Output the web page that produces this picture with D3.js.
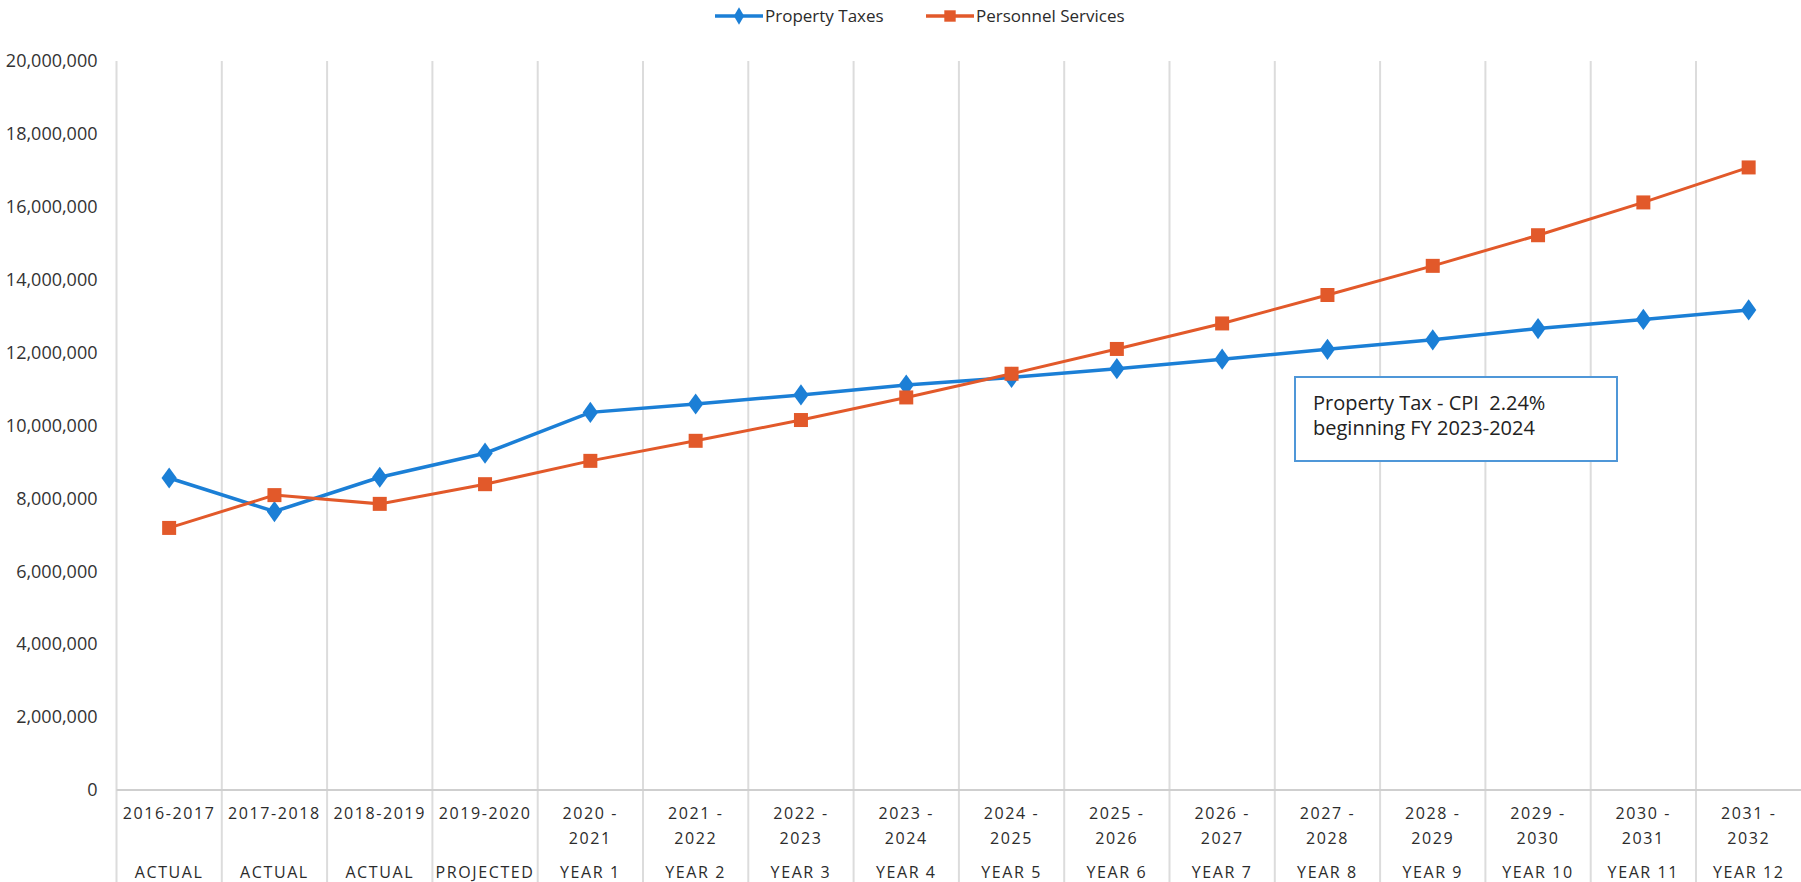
<!DOCTYPE html>
<html>
<head>
<meta charset="utf-8">
<script src="https://cdn.jsdelivr.net/npm/d3@7"></script>
<style>
  body { margin: 0; background: #fff; }
  svg { display: block; font-family: "Open Sans", sans-serif; }
</style>
</head>
<body>
<div id="chart"></div>
<script>
'use strict';

// fiscal years and the row below them
const periods = ["2016-2017", "2017-2018", "2018-2019", "2019-2020",
  "2020 - 2021", "2021 - 2022", "2022 - 2023", "2023 - 2024", "2024 - 2025",
  "2025 - 2026", "2026 - 2027", "2027 - 2028", "2028 - 2029", "2029 - 2030",
  "2030 - 2031", "2031 - 2032"];
const stages = ["ACTUAL", "ACTUAL", "ACTUAL", "PROJECTED", "YEAR 1", "YEAR 2",
  "YEAR 3", "YEAR 4", "YEAR 5", "YEAR 6", "YEAR 7", "YEAR 8", "YEAR 9",
  "YEAR 10", "YEAR 11", "YEAR 12"];

const propertyTaxes = [8560000, 7640000, 8580000, 9240000, 10360000, 10590000,
  10840000, 11110000, 11320000, 11560000, 11820000, 12090000, 12350000,
  12660000, 12910000, 13170000];
const personnelServices = [7190000, 8090000, 7850000, 8390000, 9030000, 9580000,
  10150000, 10770000, 11420000, 12100000, 12800000, 13580000, 14380000,
  15220000, 16120000, 17080000];

const yTicks = [0, 2000000, 4000000, 6000000, 8000000, 10000000, 12000000,
  14000000, 16000000, 18000000, 20000000];

const note = ["Property Tax - CPI  2.24%", "beginning FY 2023-2024"];

const width = 1801;
const height = 882;
const margin = { top: 61, right: 0, bottom: 92, left: 116.5 };

const blue = "#1b7fd6";
const orange = "#e2592a";
const grid = "#dcdcdc";

function makeChart() {
  const svg = d3.select('#chart')
                .append('svg')
                .attr('width', width)
                .attr('height', height);

  const x = d3.scaleBand()
              .domain(periods)
              .range([margin.left, width + 0.3])
              .padding(0);

  const y = d3.scaleLinear()
              .domain([0, 20000000])
              .range([height - margin.bottom, margin.top]);

  const cx = function(d, i) { return x(periods[i]) + x.bandwidth() / 2; };

  // vertical grid lines, running down through the label rows
  const bounds = periods.map(function(p) { return x(p); });
  svg.append('g')
     .selectAll('line')
     .data(bounds)
     .enter()
     .append('line')
     .attr('x1', function(d) { return d; })
     .attr('x2', function(d) { return d; })
     .attr('y1', margin.top)
     .attr('y2', height)
     .attr('stroke', grid)
     .attr('stroke-width', 2);

  // baseline
  svg.append('line')
     .attr('x1', margin.left)
     .attr('x2', width)
     .attr('y1', y(0))
     .attr('y2', y(0))
     .attr('stroke', '#cfcfcf')
     .attr('stroke-width', 2);

  // y axis
  const yAxis = svg.append('g')
                   .attr('transform', 'translate(' + (margin.left - 19) + ',0)')
                   .call(d3.axisLeft(y).tickValues(yTicks).tickSize(0).tickFormat(d3.format(',')));
  yAxis.select('.domain').remove();
  yAxis.selectAll('text')
       .attr('x', 0)
       .style('font-family', '"Open Sans", sans-serif')
       .style('font-size', '18px')
       .attr('fill', '#333');

  // x labels: year range (wrapped at the dash) and stage
  const xl = svg.append('g')
                .selectAll('g')
                .data(periods)
                .enter()
                .append('g')
                .attr('transform', function(d) { return 'translate(' + (x(d) + x.bandwidth() / 2) + ',0)'; });

  xl.each(function(d, i) {
    const g = d3.select(this);
    const parts = d.split(' - ');
    const lines = parts.length > 1 ? [parts[0] + ' -', parts[1]] : [d];
    lines.forEach(function(t, k) {
      g.append('text')
       .attr('y', 819 + k * 25)
       .attr('text-anchor', 'middle')
       .style('font-size', '16px')
       .style('letter-spacing', '1.6px')
       .attr('fill', '#2b2b2b')
       .text(t);
    });
    g.append('text')
     .attr('y', 878)
     .attr('text-anchor', 'middle')
     .style('font-size', '16px')
     .style('letter-spacing', '1.6px')
     .attr('fill', '#2b2b2b')
     .text(stages[i]);
  });

  const line = d3.line()
                 .x(cx)
                 .y(function(d) { return y(d); });

  // property taxes
  svg.append('path')
     .datum(propertyTaxes)
     .attr('d', line)
     .attr('fill', 'none')
     .attr('stroke', blue)
     .attr('stroke-width', 3.5);

  const diamond = d3.symbol().type(d3.symbolDiamond).size(130);
  svg.append('g')
     .selectAll('path')
     .data(propertyTaxes)
     .enter()
     .append('path')
     .attr('d', diamond)
     .attr('transform', function(d, i) { return 'translate(' + cx(d, i) + ',' + y(d) + ') scale(1.25,1)'; })
     .attr('fill', blue);

  // personnel services
  svg.append('path')
     .datum(personnelServices)
     .attr('d', line)
     .attr('fill', 'none')
     .attr('stroke', orange)
     .attr('stroke-width', 3);

  svg.append('g')
     .selectAll('rect')
     .data(personnelServices)
     .enter()
     .append('rect')
     .attr('x', function(d, i) { return cx(d, i) - 7; })
     .attr('y', function(d) { return y(d) - 7; })
     .attr('width', 14)
     .attr('height', 14)
     .attr('fill', orange);

  // legend
  const legend = [
    { name: "Property Taxes", colour: blue, x: 715, marker: 'diamond' },
    { name: "Personnel Services", colour: orange, x: 926, marker: 'square' }
  ];
  const lg = svg.append('g')
                .selectAll('g')
                .data(legend)
                .enter()
                .append('g')
                .attr('transform', function(d) { return 'translate(' + d.x + ',16)'; });
  lg.append('line')
    .attr('x1', 0)
    .attr('x2', 48)
    .attr('stroke', function(d) { return d.colour; })
    .attr('stroke-width', 3.5);
  lg.append('path')
    .attr('d', function(d) {
      return d.marker === 'diamond' ? d3.symbol().type(d3.symbolDiamond).size(90)()
                                    : d3.symbol().type(d3.symbolSquare).size(130)();
    })
    .attr('transform', 'translate(24,0)')
    .attr('fill', function(d) { return d.colour; });
  lg.append('text')
    .attr('x', 50)
    .attr('dy', '0.35em')
    .style('font-size', '17px')
    .attr('fill', '#2b2b2b')
    .text(function(d) { return d.name; });

  // annotation box
  const box = svg.append('g');
  box.append('rect')
     .attr('x', 1295)
     .attr('y', 377)
     .attr('width', 322)
     .attr('height', 84)
     .attr('fill', '#fff')
     .attr('stroke', '#4f97d8')
     .attr('stroke-width', 2);
  box.selectAll('text')
     .data(note)
     .enter()
     .append('text')
     .attr('x', 1313)
     .attr('y', function(d, i) { return 410 + i * 25; })
     .style('font-size', '20px')
     .style('white-space', 'pre')
     .attr('fill', '#222')
     .text(function(d) { return d; });
}

makeChart();
</script>
</body>
</html>
